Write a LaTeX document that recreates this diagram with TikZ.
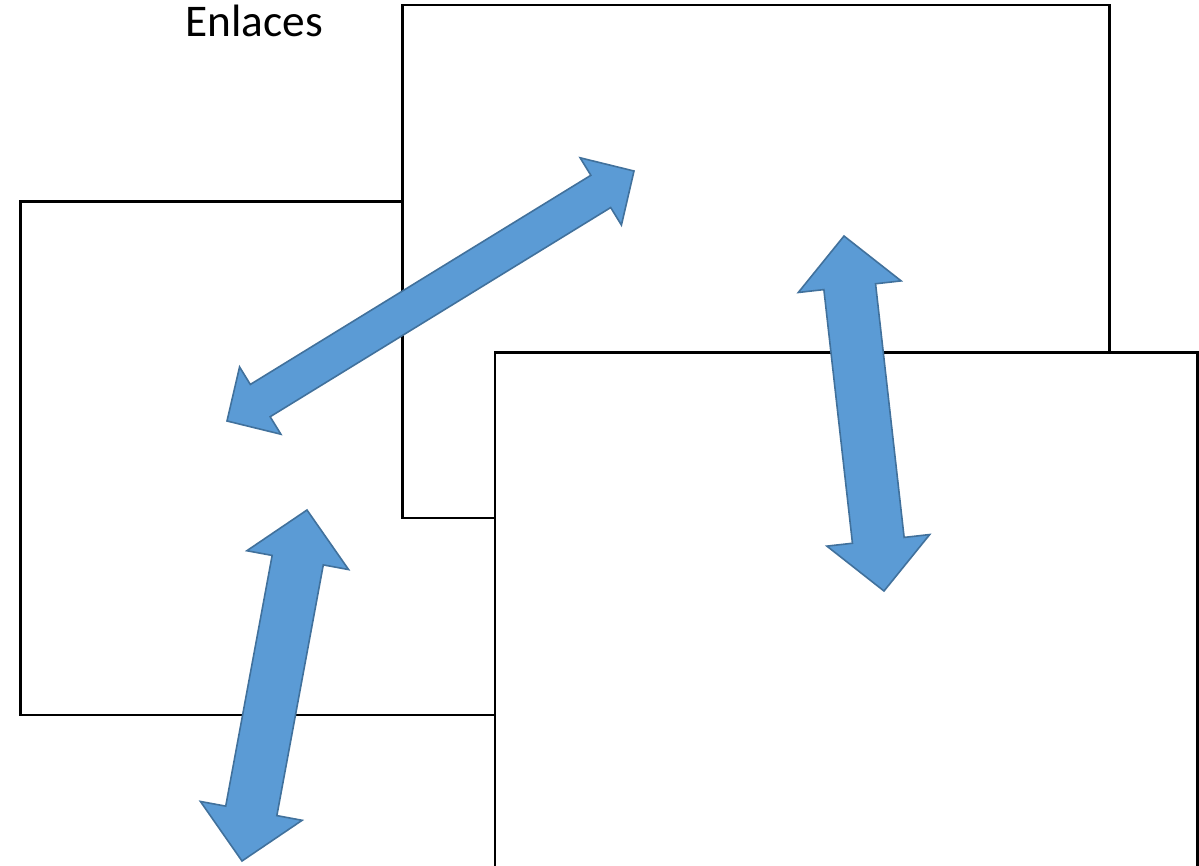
\documentclass[tikz,border=0pt]{standalone}
\usepackage{fontspec}
\setmainfont{Carlito}
\usetikzlibrary{calc}
\definecolor{arrfill}{HTML}{5B9BD5}
\definecolor{arrline}{HTML}{41719C}
\tikzset{
  page/.style={draw=black, fill=white, line width=2.2pt},
  blockarrow/.style={fill=arrfill, draw=arrline, line width=1.2pt, line join=miter},
  title/.style={inner sep=0pt, anchor=base west, font=\fontsize{34}{40}\selectfont}
}
\newcommand\dblarrow[5]{%
  \coordinate (hA) at ($(#1)!#3!(#2)$);
  \coordinate (hB) at ($(#2)!#3!(#1)$);
  \draw[blockarrow] (#1) -- ($(hA)!#4!90:(#2)$) -- ($(hA)!#5!90:(#2)$)
    -- ($(hB)!#5!-90:(#1)$) -- ($(hB)!#4!-90:(#1)$) -- (#2)
    -- ($(hB)!#4!90:(#1)$) -- ($(hB)!#5!90:(#1)$)
    -- ($(hA)!#5!-90:(#2)$) -- ($(hA)!#4!-90:(#2)$) -- cycle;
}
\begin{document}
\begin{tikzpicture}[x=0.75pt,y=-0.75pt]
\useasboundingbox (0,0) rectangle (1199,865);
% pages
\draw[page] (20.5,201.5) rectangle (700,715);
\draw[page] (402.5,5) rectangle (1109.5,518);
\draw[page] (495,352.5) rectangle (1197.5,900);
% title
\node[title] (t) at (185,36) {Enlaces};
% arrow tips
\coordinate (a1s) at (227,421);
\coordinate (a1e) at (634,171);
\coordinate (a2s) at (844,236);
\coordinate (a2e) at (884,591);
\coordinate (a3s) at (307,510);
\coordinate (a3e) at (242,861);
\dblarrow{a1s}{a1e}{29.25pt}{29.6pt}{14.2pt}
\dblarrow{a2s}{a2e}{38.25pt}{38.8pt}{19.5pt}
\dblarrow{a3s}{a3e}{38.25pt}{38.8pt}{19.5pt}
\end{tikzpicture}
\end{document}
